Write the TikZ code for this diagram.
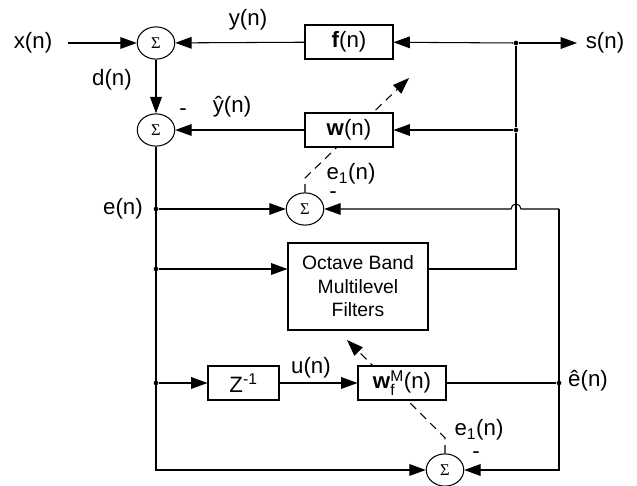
\documentclass[tikz,border=0pt]{standalone}
\usepackage{amsmath}
\usepackage{fontspec}
\setmainfont{Liberation Sans}
\newfontfamily\sigmafont{Liberation Serif}
\usepackage{tikz}
\usetikzlibrary{positioning, arrows.meta, shapes.geometric, backgrounds}
\usepackage{xcolor}

\begin{document}
\begin{tikzpicture}[
    x=0.03cm, y=-0.03cm,
    font=\fontsize{19}{22}\selectfont,
    sumnode/.style={draw, line width=0.9pt, fill=white, shape=ellipse, minimum width=32pt, minimum height=27.5pt, inner sep=0pt, font=\sigmafont\fontsize{14}{14}\selectfont},
    blk/.style={rectangle, draw, line width=0.9pt, fill=white, minimum width=2.64cm, minimum height=1.02cm, inner sep=2pt},
    arrow/.style={-{Triangle[length=14pt, width=10pt]}, line width=0.9pt},
    dasharrow/.style={arrow, dash pattern=on 7pt off 5pt},
    sig/.style={inner sep=0.5pt},
    minus/.style={inner sep=0pt},
    jdot/.style={circle, fill, inner sep=0pt, minimum size=4pt}
]
\useasboundingbox (0,0) rectangle (637,486);

% Summing junctions
\node (sumA) [sumnode] at (156,43) {Σ};
\node (sumB) [sumnode] at (156,130) {Σ};
\node (sumC) [sumnode] at (305,209) {Σ};
\node (sumD) [sumnode] at (445,470) {Σ};

% Blocks
\node (fblk) [blk] at (349,42) {\textbf{f}(n)};
\node (wblk) [blk] at (349,130) {\textbf{w}(n)};
\node (octblk) [blk, minimum width=4.2cm, minimum height=2.61cm, align=center, font=\fontsize{16.5}{20}\selectfont] at (358,286.5) {
    Octave Band\\Multilevel\\Filters
};
\node (zblk) [blk, minimum width=2.13cm] at (243.5,383) {Z$^{\text{-1}}$};
\node (wfblk) [blk] at (402,383) {\textbf{w}$_{\text{f}}^{\text{M}}$(n)};

% Signal labels
\node (xlbl) [sig] at (33,43) {x(n)};
\node (ylbl) [sig] at (248,20) {y(n)};
\node (dlbl) [sig] at (112,80) {d(n)};
\node (yhlbl) [sig] at (232,107) {\^{y}(n)};
\node (elbl) [sig] at (123,209) {e(n)};
\node (slbl) [sig] at (605,43) {s(n)};
\node (e1lbl) [sig] at (351,174) {e$_{\text{1}}$(n)};
\node (ulbl) [sig] at (311,368) {u(n)};
\node (ehlbl) [sig] at (588,381) {\^{e}(n)};
\node (e1blbl) [sig] at (479,430) {e$_{\text{1}}$(n)};

% Minus signs
\node (minusB) [minus] at (183,112) {-};
\node (minusC) [minus] at (333,195) {-};
\node (minusD) [minus] at (476,455) {-};

% Junctions and corners
\node (jf) [jdot] at (516,43) {};
\node (jw) [jdot] at (516,130) {};
\node (je) [jdot] at (156,209) {};
\node (jo) [jdot] at (156,269) {};
\node (jz) [jdot] at (156,383) {};
\node (jeh) [jdot] at (559,383) {};
\coordinate (xin) at (68,43);
\coordinate (sout) at (577,43);
\coordinate (crtop) at (559,209);
\coordinate (crbot) at (559,470);
\coordinate (hop) at (516,209);
\coordinate (bendA) at (305,178);
\coordinate (tipA) at (409,78);
\coordinate (bendB) at (445,438);
\coordinate (tipB) at (347,340);

% Connecting arrows
\draw [arrow] (xin) -- (sumA);
\draw [arrow] (jf) -- (fblk);
\draw [arrow] (fblk) -- (sumA);
\draw [arrow] (jf) -- (sout);
\draw [arrow] (sumA) -- (sumB);
\draw [arrow] (jw) -- (wblk);
\draw [arrow] (wblk) -- (sumB);
\draw [line width=0.9pt] (jf) -- (jw) |- (octblk.east |- jo);
\draw [arrow] (sumB) |- (sumD);
\draw [arrow] (je) -- (sumC);
\draw [arrow] (jo) -- (octblk.west |- jo);
\draw [arrow] (jz) -- (zblk);
\draw [arrow] (zblk) -- (wfblk);
\draw [line width=0.9pt] (wfblk) -- (jeh);
\draw [arrow] (crtop) -- ([xshift=0.15cm]hop) arc[start angle=0, end angle=180, radius=0.15cm] -- (sumC);
\draw [arrow] (crtop) -- (crbot) -- (sumD);

% Adaptation paths
\begin{scope}[on background layer]
\draw [dasharrow] (sumC) -- (bendA) -- (tipA);
\draw [dasharrow] (sumD) -- (bendB) -- (tipB);
\end{scope}

\end{tikzpicture}
\end{document}
